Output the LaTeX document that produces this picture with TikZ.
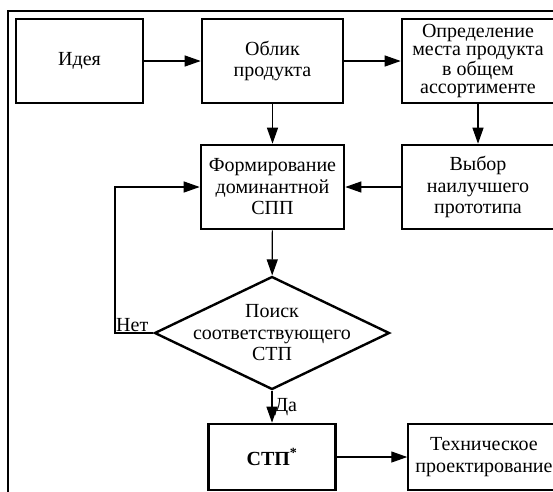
\documentclass[tikz,border=0pt]{standalone}
\usepackage{fontspec}
\setmainfont{Liberation Serif}
\usepackage{tikz}
\usetikzlibrary{shapes.geometric,arrows.meta}

\begin{document}
\begin{tikzpicture}[x=1pt,y=-1pt,
  blok/.style={draw,line width=2.6pt,inner sep=0pt,align=center,
    minimum height=84pt,font=\fontsize{20}{21.5}\selectfont},
  romb/.style={draw,line width=2.4pt,shape=diamond,inner sep=0pt,
    aspect=2.08,minimum width=235pt,minimum height=113pt},
  tekst/.style={align=center,font=\fontsize{20}{21.5}\selectfont},
  strelka/.style={-{Triangle[length=16pt,width=11pt]},line width=1.2pt}]
\useasboundingbox (0,0) rectangle (553,491);
\draw[line width=1.5pt] (8,11) rectangle (600,540);
\node[blok,minimum width=127pt] (idea) at (79.5,61) {Идея};
\node[blok,minimum width=141pt] (oblik) at (272.5,61) {Облик\\продукта};
\node[blok,minimum width=152pt,font=\fontsize{20}{18.5}\selectfont] (mesto) at (478,61)
  {Определение\\места продукта\\в общем\\ассортименте};
\node[blok,minimum width=143pt] (formir) at (272.5,187) {Формирование\\доминантной\\СПП};
\node[blok,minimum width=152pt] (vybor) at (478,187) {Выбор\\наилучшего\\прототипа};
\node[romb] (poisk) at (272,333) {};
\node[tekst] (poisktekst) at (poisk) {Поиск\\соответствующего\\СТП};
\node[blok,minimum width=127pt,minimum height=66pt] (stp) at (272,457) {\textbf{СТП\textsuperscript{*}}};
\node[blok,line width=1.5pt,minimum width=152pt,minimum height=66pt] (tekh) at (484,457)
  {Техническое\\проектирование};
\coordinate (povorot) at (115,333);
\draw[strelka] (idea) -- (oblik);
\draw[strelka] (oblik) -- (mesto);
\draw[strelka] (oblik) -- (formir);
\draw[strelka] (mesto) -- (vybor);
\draw[strelka] (vybor) -- (formir);
\draw[strelka] (formir) -- (poisk);
\draw[strelka] (poisk.west) -- (povorot) |- (formir.west);
\node[tekst,anchor=south west,inner sep=1pt] (net) at (povorot) {Нет};
\draw[strelka] (poisk) -- (stp) node[tekst,midway,right,inner sep=2pt] (da) {Да};
\draw[strelka] (stp) -- (tekh);
\end{tikzpicture}
\end{document}
